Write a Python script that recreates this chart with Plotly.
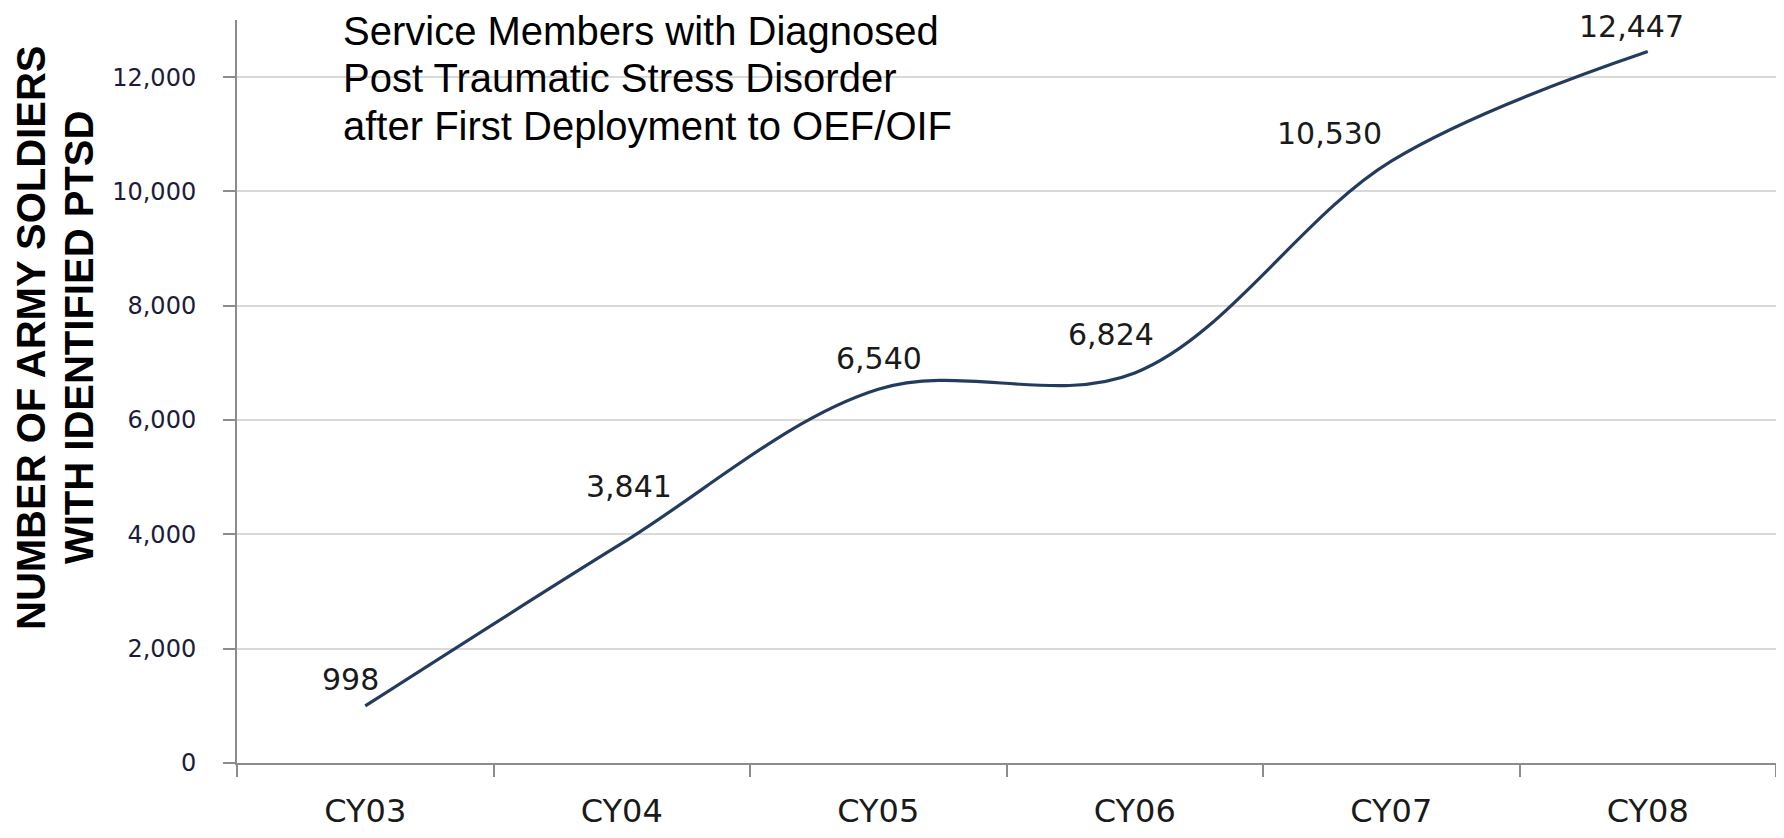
import plotly.graph_objects as go

# ---- data ----
years = ["CY03", "CY04", "CY05", "CY06", "CY07", "CY08"]
ptsd_cases = [998, 3841, 6540, 6824, 10530, 12447]
y_ticks = [0, 2000, 4000, 6000, 8000, 10000, 12000]
title_lines = [
    "Service Members with Diagnosed",
    "Post Traumatic Stress Disorder",
    "after First Deployment to OEF/OIF",
]
ytitle_lines = ["NUMBER OF ARMY SOLDIERS", "WITH IDENTIFIED PTSD"]

# ---- styling / label offsets (pixels) ----
label_shift_x = [-15, 7, 1, -24, -62, -16]
label_shift_y = [26, 57, 31, 38, 28, 25]

# the page body has an 8px margin, so the figure is shrunk by that amount
OFF = 8
W, H = 1784 - OFF, 838 - OFF
ML, MR, MT, MB = 237 - OFF, 8, 20 - OFF, 68
PW, PH = W - ML - MR, H - MT - MB
PLOT_LEFT_WIN = ML + OFF
PLOT_BOTTOM_WIN = H - MB + OFF


def px_x(px):
    return (px - PLOT_LEFT_WIN) / PW


def px_y(py):
    return (PLOT_BOTTOM_WIN - py) / PH


LABEL_FONT = dict(family="DejaVu Sans", size=30, color="#1a1a1a")

fig = go.Figure()
fig.add_trace(
    go.Scatter(
        x=years,
        y=ptsd_cases,
        mode="lines",
        line=dict(color="#233c5e", width=3.2, shape="spline", smoothing=1.0),
        hoverinfo="x+y",
        showlegend=False,
    )
)

annotations = []
for yr, v, dx, dy in zip(years, ptsd_cases, label_shift_x, label_shift_y):
    annotations.append(
        dict(
            x=yr, y=v, xref="x", yref="y",
            text=f"{v:,}", showarrow=False,
            xshift=dx, yshift=dy,
            font=LABEL_FONT,
            xanchor="center", yanchor="middle",
        )
    )

# chart title (inside plot, white box behind)
for txt, cy in zip(title_lines, [31, 79, 127]):
    annotations.append(
        dict(
            x=px_x(341), y=px_y(cy), xref="paper", yref="paper",
            text=txt, showarrow=False, xanchor="left", yanchor="middle",
            font=dict(family="Liberation Sans, Arial", size=40, color="#000000"),
        )
    )

# y axis title (two rotated lines)
for txt, cx in zip(ytitle_lines, [31, 79]):
    annotations.append(
        dict(
            x=px_x(cx), y=px_y(341), xref="paper", yref="paper",
            text=f"<b>{txt}</b>", showarrow=False, textangle=-90,
            xanchor="center", yanchor="middle",
            font=dict(family="Liberation Sans, Arial", size=40, color="#000000"),
        )
    )

fig.update_layout(
    width=W, height=H, autosize=False,
    margin=dict(l=ML, r=MR, t=MT, b=MB, pad=0),
    paper_bgcolor="white", plot_bgcolor="white",
    annotations=annotations,
    shapes=[
        dict(
            type="rect", xref="paper", yref="paper",
            x0=px_x(322), x1=px_x(996), y0=px_y(150), y1=1.0,
            fillcolor="white", line=dict(width=0), layer="between",
        )
    ],
    xaxis=dict(
        type="category", categoryorder="array", categoryarray=years,
        range=[-0.5, len(years) - 0.5],
        showline=True, linecolor="#8c8c8c", linewidth=2,
        ticks="outside", tickson="boundaries", ticklen=12,
        tickcolor="#8c8c8c", tickwidth=2,
        showgrid=False, zeroline=False,
        tickfont=dict(family="DejaVu Sans", size=32, color="#1a1a1a"),
        ticklabelstandoff=19,
    ),
    yaxis=dict(
        range=[0, 13000], tickvals=y_ticks, tickformat=",",
        showline=True, linecolor="#8c8c8c", linewidth=2,
        ticks="outside", ticklen=12, tickcolor="#8c8c8c", tickwidth=2,
        showgrid=True, gridcolor="#d9d9d9", gridwidth=1.5,
        zeroline=False,
        tickfont=dict(family="DejaVu Sans", size=24, color="#1c1c3a"),
        ticklabelstandoff=22,
    ),
)

fig.write_html("out.html")
